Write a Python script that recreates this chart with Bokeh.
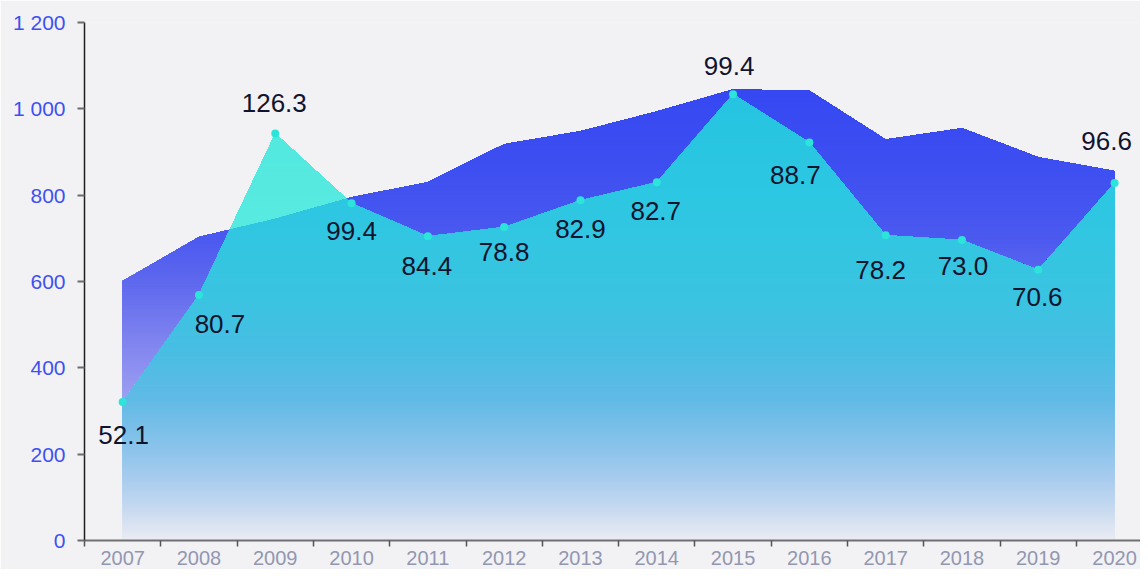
import numpy as np
from bokeh.plotting import figure
from bokeh.models import Range1d, FixedTicker, CustomJSTickFormatter, ColumnDataSource
from bokeh.core.properties import value
from bokeh.embed import file_html
from bokeh.resources import INLINE

# ---------------- data ----------------
years = ["2007", "2008", "2009", "2010", "2011", "2012", "2013",
         "2014", "2015", "2016", "2017", "2018", "2019", "2020"]
total_values = [601, 703, 745, 795, 830, 918, 948, 994, 1045, 1042, 929, 955, 888, 856]
line_values = [321, 569, 943, 781, 705, 726, 788, 830, 1034, 922, 707, 696, 627, 828]
point_labels = ["52.1", "80.7", "126.3", "99.4", "84.4", "78.8", "82.9",
                "82.7", "99.4", "88.7", "78.2", "73.0", "70.6", "96.6"]

# label placement (screen px offsets, style only)
label_dx = [1, 21, -1, 0, -1, 0, 0, -1, -4, -14, -5, 1, -1, -8]
label_dy = [33, 29, -30, 28, 30, 25, 29, 29, -28, 32, 35, 26, 27, -42]

BG = "#f2f2f5"
FONT = "Liberation Sans"

# ---------------- helpers (geometry / colours) ----------------
def hex2rgb(h):
    h = h.lstrip("#")
    return tuple(int(h[i:i + 2], 16) for i in (0, 2, 4))


def make_colorfn(stops):
    vals = [s[0] for s in stops]
    cols = [hex2rgb(s[1]) for s in stops]

    def fn(v):
        if v <= vals[0]:
            c = cols[0]
        elif v >= vals[-1]:
            c = cols[-1]
        else:
            for i in range(len(vals) - 1):
                if vals[i] <= v <= vals[i + 1]:
                    t = (v - vals[i]) / (vals[i + 1] - vals[i])
                    c = tuple(cols[i][k] + t * (cols[i + 1][k] - cols[i][k]) for k in range(3))
                    break
        return "#%02x%02x%02x" % tuple(int(round(x)) for x in c)
    return fn


def clip_above(pts, b):
    out = []
    n = len(pts)
    for i in range(n):
        cur = pts[i]
        prev = pts[i - 1]
        cin = cur[1] >= b
        pin = prev[1] >= b
        if cin:
            if not pin:
                t = (b - prev[1]) / (cur[1] - prev[1])
                out.append((prev[0] + t * (cur[0] - prev[0]), b))
            out.append(cur)
        elif pin:
            t = (b - prev[1]) / (cur[1] - prev[1])
            out.append((prev[0] + t * (cur[0] - prev[0]), b))
    return out


def area_poly(curve):
    return [(curve[0][0], 0.0)] + list(curve) + [(curve[-1][0], 0.0)]


def min_curve(xs, a, c):
    pts = []
    for i in range(len(xs)):
        pts.append((xs[i], min(a[i], c[i])))
        if i < len(xs) - 1:
            d0 = a[i] - c[i]
            d1 = a[i + 1] - c[i + 1]
            if d0 * d1 < 0:
                t = d0 / (d0 - d1)
                pts.append((xs[i] + t * (xs[i + 1] - xs[i]), a[i] + t * (a[i + 1] - a[i])))
    return pts


x = list(range(len(years)))

blue_fn = make_colorfn([(0, "#dcdcf6"), (300, "#a3a5f1"), (400, "#8d90f0"), (500, "#767cee"),
                        (600, "#5e68ee"), (700, "#4b59ef"), (800, "#4253f0"), (900, "#3c4df1"),
                        (1100, "#3346f2")])
mint_fn = make_colorfn([(0, "#c8f4f0"), (600, "#5aeae1"), (1000, "#52e9df")])
mix_fn = make_colorfn([(0, "#eaedf5"), (16, "#e4e8f2"), (74, "#c6d9f0"), (143, "#a8ccee"),
                       (213, "#8bc3ea"), (328, "#60bae6"), (444, "#47bee3"), (560, "#3ac4e1"),
                       (800, "#2cc7e2"), (1100, "#24c3e0")])

STEP = 6.0


def bands(poly, colorfn):
    xs_l, ys_l, cs = [], [], []
    b = 0.0
    while b < 1200:
        cp = clip_above(poly, b)
        if len(cp) >= 3:
            xs_l.append([q[0] for q in cp])
            ys_l.append([q[1] for q in cp])
            cs.append(colorfn(b + STEP / 2))
        b += STEP
    return xs_l, ys_l, cs


blue_poly = area_poly(list(zip(x, total_values)))
mint_poly = area_poly(list(zip(x, line_values)))
mix_poly = area_poly(min_curve(x, total_values, line_values))

# ---------------- figure ----------------
p = figure(width=1140, height=569, output_backend="svg", toolbar_location=None,
           x_range=Range1d(-0.5, 13.34), y_range=Range1d(0, 1200),
           min_border_left=84, min_border_right=0, min_border_top=22, min_border_bottom=29)
p.background_fill_color = BG
p.border_fill_color = BG
p.outline_line_color = None
p.xgrid.grid_line_color = None
p.ygrid.grid_line_color = None

for poly, fn in ((blue_poly, blue_fn), (mint_poly, mint_fn), (mix_poly, mix_fn)):
    bx, by, bc = bands(poly, fn)
    p.patches(xs=bx, ys=by, fill_color=bc, line_color=None)

src = ColumnDataSource(dict(x=x, y=line_values, label=point_labels,
                            dx=label_dx, dy=label_dy))
p.scatter("x", "y", source=src, size=8, fill_color="#2ce5da", line_color=None)
p.text("x", "y", text="label", source=src, x_offset="dx", y_offset="dy",
       text_font=value(FONT), text_font_size="26px", text_color="#11142e",
       text_align="center", text_baseline="middle")

# y axis
yax = p.yaxis[0]
yax.ticker = FixedTicker(ticks=[0, 200, 400, 600, 800, 1000, 1200])
yax.formatter = CustomJSTickFormatter(code="""
const s = Math.round(tick).toString();
return s.length > 3 ? s.slice(0, s.length - 3) + '\\u00a0' + s.slice(s.length - 3) : s;
""")
yax.major_label_text_font = FONT
yax.major_label_text_font_size = "21px"
yax.major_label_text_color = "#3d50f2"
yax.major_label_standoff = 12
yax.axis_line_color = "#1e1e1e"
yax.axis_line_width = 1.5
yax.major_tick_line_color = "#6b6b6b"
yax.major_tick_line_width = 2
yax.major_tick_out = 7
yax.major_tick_in = 0
yax.minor_tick_line_color = None

# x axis
xax = p.xaxis[0]
xax.ticker = FixedTicker(ticks=x, minor_ticks=[i - 0.5 for i in range(len(years) + 1)])
xax.formatter = CustomJSTickFormatter(args=dict(labels=years),
                                      code="const i = Math.round(tick); return (i >= 0 && i < labels.length) ? labels[i] : '';")
xax.major_label_text_font = FONT
xax.major_label_text_font_size = "20px"
xax.major_label_text_color = "#9297b0"
xax.major_label_standoff = 4
xax.axis_line_color = "#707070"
xax.axis_line_width = 2
xax.major_tick_line_color = None
xax.major_tick_out = 0
xax.major_tick_in = 0
xax.minor_tick_line_color = "#555555"
xax.minor_tick_line_width = 1.5
xax.minor_tick_out = 6
xax.minor_tick_in = 0

html = file_html(p, INLINE)
html = html.replace("<body>", '<body style="background-color:%s;">' % BG, 1)
open("out.html", "w").write(html)
